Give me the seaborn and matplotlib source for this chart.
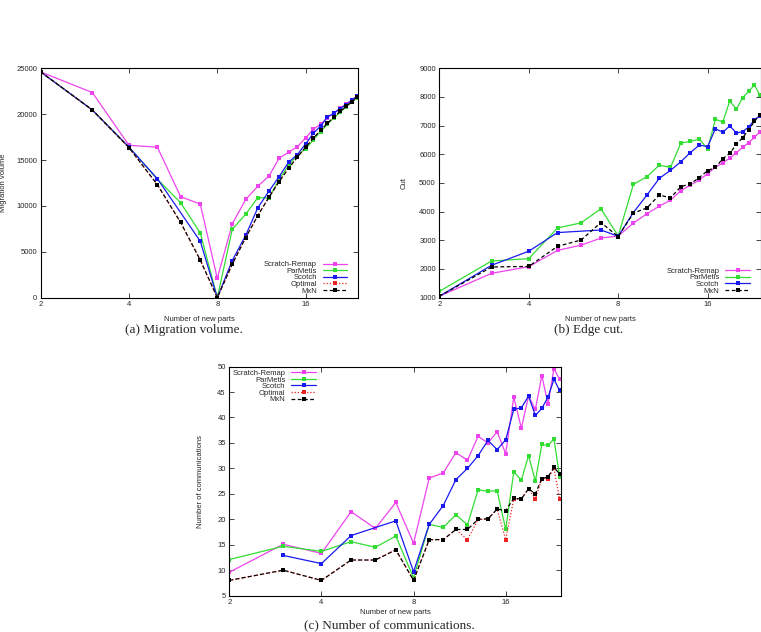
import numpy as np
import pandas as pd
import matplotlib
import matplotlib.pyplot as plt
import seaborn as sns
from matplotlib.ticker import FixedLocator, FixedFormatter, NullLocator, MultipleLocator

matplotlib.use('Agg')

# --- data ---
PARTS = list(range(2, 25))
NAN = np.nan

# (a) migration volume
MIG_SCRATCH = [24600, 22350, 16600, 16400, 11000, 10200, 2100, 8050, 10700, 12150, 13250, 15200,
               15850, 16450, 17400, 18350, 18900, 19600, 20150, 20650, 21100, 21550, 22000]
MIG_PARMETIS = [24600, 20450, 16400, 12900, 10350, 7050, 0, 7450, 9100, 10900, 10850, 12900,
                14400, 15550, 16200, 17200, 18100, 18900, 19600, 20200, 20800, 21300, 21800]
MIG_SCOTCH = [24600, 20450, 16400, 12950, NAN, 6150, 0, 4050, 6800, 9800, 11600, 13200,
              14750, 15600, 16750, 17900, 18700, 19700, 20100, 20600, 21050, 21500, 22000]
MIG_OPTIMAL = [24600, 20450, 16350, 12300, 8200, 4100, 0, 3650, 6550, 8950, 10950, 12650,
               14100, 15300, 16400, 17350, 18250, 19000, 19700, 20300, 20850, 21350, 21850]
MIG_MXN = [24600, 20450, 16350, 12300, 8200, 4100, 0, 3650, 6550, 8950, 10950, 12650,
           14100, 15300, 16400, 17350, 18250, 19000, 19700, 20300, 20850, 21350, 21850]

# (b) edge cut
CUT_SCRATCH = [1050, 1850, 2080, 2650, 2830, 3080, 3150, 3600, 3930, 4190, 4400, 4730,
               4930, 5100, 5330, 5550, 5700, 5870, 6060, 6240, 6410, 6590, 6790]
CUT_PARMETIS = [1220, 2280, 2360, 3430, 3610, 4100, 3150, 4950, 5220, 5620, 5540, 6390,
                6450, 6530, 6190, 7220, 7130, 7860, 7570, 7980, 8190, 8420, 8050]
CUT_SCOTCH = [1050, 2130, 2620, 3270, NAN, 3360, 3140, 3970, 4580, 5160, 5440, 5740,
              6060, 6320, 6270, 6890, 6770, 6990, 6740, 6790, 6950, 7200, 7350]
CUT_MXN = [1050, 2070, 2090, 2790, 3010, 3620, 3130, 3950, 4130, 4580, 4480, 4870,
           4970, 5190, 5430, 5540, 5850, 6030, 6350, 6580, 6850, 7150, 7380]

# (c) number of communications
COM_SCRATCH = [9.6, 15.1, 13.3, 21.5, 18.2, 23.3, 15.3, 28.1, 29.1, 33.1, 31.6, 36.3,
               35.0, 37.2, 32.9, 44.0, 37.9, 44.2, 41.6, 48.2, 42.6, 49.6, 47.5]
COM_PARMETIS = [12.1, 14.7, 13.7, 15.6, 14.5, 16.7, 8.5, 19.0, 18.4, 20.9, 18.9, 25.8,
                25.5, 25.6, 18.0, 29.3, 27.7, 32.5, 27.5, 34.7, 34.5, 35.8, 28.4]
COM_SCOTCH = [NAN, 12.9, 11.3, 16.8, NAN, 19.7, 9.7, 19.0, 22.7, 27.8, 30.0, 32.5,
              35.5, 33.7, 35.6, 41.6, 41.9, 44.2, 40.4, 41.8, 44.0, 47.5, 45.3]
COM_OPTIMAL = [8, 10, 8, 12, 12, 14, 8, 16, 16, 18, 16, 20,
               20, 22, 16, 24, 24, 26, 24, 28, 28, 30, 24]
COM_MXN = [8, 10, 8, 12, 12, 14, 8, 16, 16, 18, 18, 20,
           20.1, 22, 21.7, 24.1, 24, 26, 25, 28, 28.3, 30.2, 28.9]

METHODS = ["Scratch-Remap", "ParMetis", "Scotch", "Optimal", "MxN"]
COLORS = {"Scratch-Remap": "#ee44ee", "ParMetis": "#33dd33", "Scotch": "#1a1aee",
          "Optimal": "#ee2222", "MxN": "#000000"}
DASHES = {"Scratch-Remap": "", "ParMetis": "", "Scotch": "", "Optimal": (1, 1.5), "MxN": (3, 2)}
MARKERS = {m: "s" for m in METHODS}

sns.set_style("ticks")
plt.rcParams['font.family'] = ['Liberation Sans', 'DejaVu Sans']
plt.rcParams['axes.linewidth'] = 0.8
plt.rcParams['xtick.direction'] = 'in'
plt.rcParams['ytick.direction'] = 'in'

FS = 5.5


def to_long(series):
    rows = []
    for name, vals in series.items():
        for p, v in zip(PARTS, vals):
            if not np.isnan(v):
                rows.append({"parts": p, "value": v, "method": name})
    return pd.DataFrame(rows)


def draw_panel(ax, series, ylim, ystep, ylabel, ylab_x, xlab_y, legend_loc, legend_anchor):
    df = to_long(series)
    order = [m for m in METHODS if m in series]
    sns.lineplot(data=df, x="parts", y="value", hue="method", style="method",
                 hue_order=order, style_order=order, palette=COLORS, dashes=DASHES,
                 markers=MARKERS, markersize=2.8, markeredgewidth=0, linewidth=0.9,
                 estimator=None, sort=True, legend=False, ax=ax)
    ax.set_xscale('log', base=2)
    ax.set_xlim(2, 24.2)
    ax.xaxis.set_major_locator(FixedLocator([2, 4, 8, 16]))
    ax.xaxis.set_major_formatter(FixedFormatter(["2", "4", "8", "16"]))
    ax.xaxis.set_minor_locator(NullLocator())
    ax.set_ylim(*ylim)
    ax.yaxis.set_major_locator(MultipleLocator(ystep))
    ax.tick_params(axis='both', which='major', labelsize=FS, length=3.5, width=0.6,
                   top=True, right=True, pad=2.5)
    for sp in ax.spines.values():
        sp.set_visible(True)
        sp.set_color('black')
    ax.set_xlabel("Number of new parts", fontsize=FS)
    ax.set_ylabel(ylabel, fontsize=FS)
    ax.yaxis.set_label_coords(ylab_x, 0.5)
    ax.xaxis.set_label_coords(0.5, xlab_y)
    lines = ax.get_lines()[:len(order)]
    ax.legend(lines, order, loc=legend_loc, bbox_to_anchor=legend_anchor, frameon=False,
              markerfirst=False, fontsize=FS, handlelength=3.2, handletextpad=0.8,
              labelspacing=-0.1, borderpad=0.2, borderaxespad=0.2)


fig = plt.figure(figsize=(7.61, 6.32), dpi=100)
ax_a = fig.add_axes([0.0535, 0.529, 0.4173, 0.363])
ax_b = fig.add_axes([0.5773, 0.529, 0.4227, 0.363])
ax_c = fig.add_axes([0.3013, 0.0575, 0.4355, 0.3625])

draw_panel(ax_a, {"Scratch-Remap": MIG_SCRATCH, "ParMetis": MIG_PARMETIS, "Scotch": MIG_SCOTCH,
                  "Optimal": MIG_OPTIMAL, "MxN": MIG_MXN},
           (0, 25000), 5000, "Migration volume", -0.105, -0.08, 'lower right', (0.975, 0.0))
draw_panel(ax_b, {"Scratch-Remap": CUT_SCRATCH, "ParMetis": CUT_PARMETIS, "Scotch": CUT_SCOTCH,
                  "MxN": CUT_MXN},
           (1000, 9000), 1000, "Cut", -0.10, -0.08, 'lower right', (0.975, 0.0))
draw_panel(ax_c, {"Scratch-Remap": COM_SCRATCH, "ParMetis": COM_PARMETIS, "Scotch": COM_SCOTCH,
                  "Optimal": COM_OPTIMAL, "MxN": COM_MXN},
           (5, 50), 5, "Number of communications", -0.076, -0.06, 'upper left', (0.0, 1.0))

cap_kw = dict(fontsize=9.5, family=['Liberation Serif', 'DejaVu Serif'], ha='center')
fig.text(0.242, 1 - 330 / 632, "(a) Migration volume.", va='center', **cap_kw)
fig.text(0.7735, 1 - 330 / 632, "(b) Edge cut.", va='center', **cap_kw)
fig.text(0.512, 1 - 631 / 632, "(c) Number of communications.", va='bottom', **cap_kw)

fig.savefig("out.png", dpi=100)
plt.close(fig)
